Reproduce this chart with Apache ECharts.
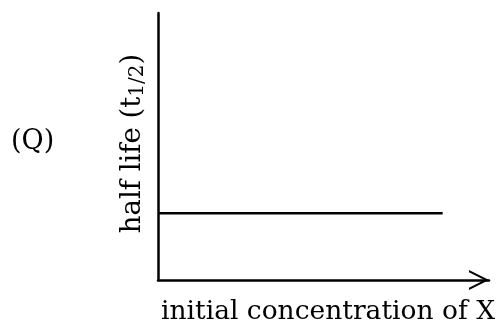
<!DOCTYPE html>
<html>
<head>
<meta charset="utf-8">
<script src="https://cdn.jsdelivr.net/npm/echarts@6/dist/echarts.min.js"></script>
<style>
  html, body { margin: 0; padding: 0; background: #fff; }
  #chart { width: 498px; height: 324px; }
</style>
</head>
<body>
<div id="chart"></div>
<script>
// Zero-order reaction: half life does not depend on initial concentration
const panelLabel = '(Q)';
const xAxisTitle = 'initial concentration of X';
const yAxisTitle = ['half life (t', '1/2', ')'];
const concentration = [0, 8.6];
const halfLife = [1, 1];
const xRange = [0, 10];
const yRange = [0, 4];

const FONT = 'DejaVu Serif';
const INK = '#000';

// open chevron arrow head, pointing "up" before the axis rotates it
const chevron = 'path://M100 0 L200 200 L177 200 L100 45 L23 200 L0 200 Z';

const chart = echarts.init(document.getElementById('chart'), null, { renderer: 'canvas' });

chart.setOption({
  animation: false,
  backgroundColor: '#fff',
  title: {
    text: panelLabel,
    left: 6,
    top: 123,
    textStyle: { fontFamily: FONT, fontSize: 27, fontWeight: 'normal', color: INK }
  },
  grid: { left: 158, right: 9, top: 13, bottom: 44, containLabel: false, outerBoundsMode: 'none' },
  xAxis: {
    type: 'value',
    min: xRange[0],
    max: xRange[1],
    name: xAxisTitle,
    nameLocation: 'middle',
    nameGap: 19,
    nameTextStyle: {
      fontFamily: FONT, fontSize: 26.5, color: INK, verticalAlign: 'top',
      padding: [0, 0, 0, 9]
    },
    axisLine: {
      show: true,
      onZero: false,
      symbol: ['none', chevron],
      symbolSize: [20, 20],
      symbolOffset: [0, -10],
      lineStyle: { color: INK, width: 2.5 }
    },
    axisTick: { show: false },
    axisLabel: { show: false },
    splitLine: { show: false }
  },
  yAxis: {
    type: 'value',
    min: yRange[0],
    max: yRange[1],
    name: '{a|' + yAxisTitle[0] + '}{s|' + yAxisTitle[1] + '}{a|' + yAxisTitle[2] + '}',
    nameLocation: 'middle',
    nameRotate: 90,
    nameGap: 10,
    nameTextStyle: {
      color: INK,
      padding: [0, 0, 0, 6],
      rich: {
        a: { fontFamily: FONT, fontSize: 27.5, lineHeight: 31, color: INK },
        s: { fontFamily: FONT, fontSize: 20, lineHeight: 14, verticalAlign: 'bottom', color: INK }
      }
    },
    axisLine: { show: true, onZero: false, lineStyle: { color: INK, width: 2.5 } },
    axisTick: { show: false },
    axisLabel: { show: false },
    splitLine: { show: false }
  },
  series: [{
    type: 'line',
    data: concentration.map((c, i) => [c, halfLife[i]]),
    symbol: 'none',
    lineStyle: { color: INK, width: 2.5 },
    silent: true
  }]
});
</script>
</body>
</html>
